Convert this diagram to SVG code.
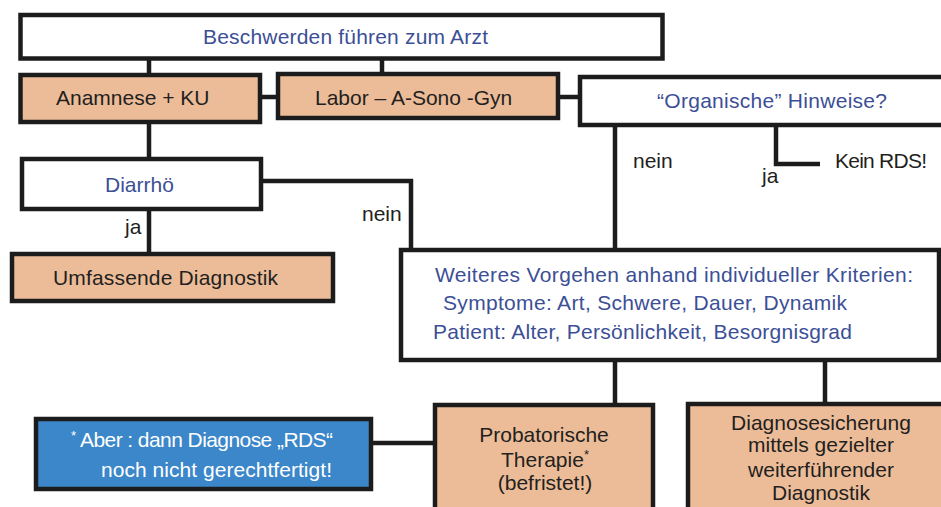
<svg xmlns="http://www.w3.org/2000/svg" width="941" height="507" viewBox="0 0 941 507">
<style>
.box{stroke:#1c1c1c;stroke-width:4.5;}
.w{fill:#ffffff;}
.o{fill:#ecbc98;}
.b{fill:#3b87c9;}
.c{fill:none;stroke:#1c1c1c;stroke-width:4.5;}
text{font-family:"Liberation Sans",Arial,sans-serif;font-size:21px;}
.tb{fill:#3c4f96;}
.td{fill:#231f20;}
.tw{fill:#ffffff;}
.m{text-anchor:middle;}
.sup{font-size:13px;}
</style>
<rect width="941" height="507" fill="#ffffff"/>
<g id="connectors">
<path class="c" d="M149,58V75M382,58V74M260,97H278M558,97H580M149,122V159M149,209V254M261,181H411V250M615,125V250M776,125V164H820M615,360V405M825,360V404M371,443H435"/>
</g>
<g id="n-beschwerden">
<rect class="box w" x="20.5" y="15" width="642" height="43.5"/>
<text class="tb" x="203" y="44" textLength="285">Beschwerden führen zum Arzt</text>
</g>
<g id="n-anamnese">
<rect class="box o" x="20.5" y="75" width="239.5" height="47"/>
<text class="td" x="56" y="105">Anamnese + KU</text>
</g>
<g id="n-labor">
<rect class="box o" x="278" y="74" width="280" height="44"/>
<text class="td" x="315" y="105">Labor – A-Sono -Gyn</text>
</g>
<g id="n-organische">
<rect class="box w" x="580" y="77" width="370" height="48"/>
<text class="tb" x="657" y="108" textLength="230">“Organische” Hinweise?</text>
</g>
<g id="n-diarrhoe">
<rect class="box w" x="22" y="159" width="239" height="50"/>
<text class="tb" x="105" y="192">Diarrhö</text>
</g>
<g id="n-umfassend">
<rect class="box o" x="12" y="254" width="321" height="47"/>
<text class="td" x="53" y="285" textLength="225">Umfassende Diagnostik</text>
</g>
<g id="n-keinrds">
<text class="td" x="835" y="168" textLength="92">Kein RDS!</text>
</g>
<g id="labels">
<text class="td" x="125" y="234">ja</text>
<text class="td" x="362" y="221">nein</text>
<text class="td" x="633" y="168">nein</text>
<text class="td" x="762" y="183">ja</text>
</g>
<g id="n-weiteres">
<rect class="box w" x="401" y="250" width="538" height="110"/>
<text class="tb" x="435" y="282" textLength="478">Weiteres Vorgehen anhand individueller Kriterien:</text>
<text class="tb" x="443" y="310" textLength="404">Symptome: Art, Schwere, Dauer, Dynamik</text>
<text class="tb" x="433" y="339" textLength="419">Patient: Alter, Persönlichkeit, Besorgnisgrad</text>
</g>
<g id="n-aber">
<rect class="box b" x="36" y="419" width="335" height="70"/>
<text class="tw sup" x="71" y="440">*</text>
<text class="tw" x="80" y="447" textLength="253">Aber : dann Diagnose „RDS“</text>
<text class="tw" x="101" y="477" textLength="231">noch nicht gerechtfertigt!</text>
</g>
<g id="n-probatorisch">
<rect class="box o" x="435" y="405" width="218" height="120"/>
<text class="td m" x="544" y="442">Probatorische</text>
<text class="td" x="501" y="467">Therapie<tspan class="sup" dy="-8">*</tspan></text>
<text class="td m" x="545" y="490">(befristet!)</text>
</g>
<g id="n-diagnosesicherung">
<rect class="box o" x="688" y="404" width="270" height="120"/>
<text class="td m" x="821" y="430">Diagnosesicherung</text>
<text class="td m" x="821" y="452">mittels gezielter</text>
<text class="td m" x="821" y="477">weiterführender</text>
<text class="td m" x="821" y="500">Diagnostik</text>
</g>
</svg>
